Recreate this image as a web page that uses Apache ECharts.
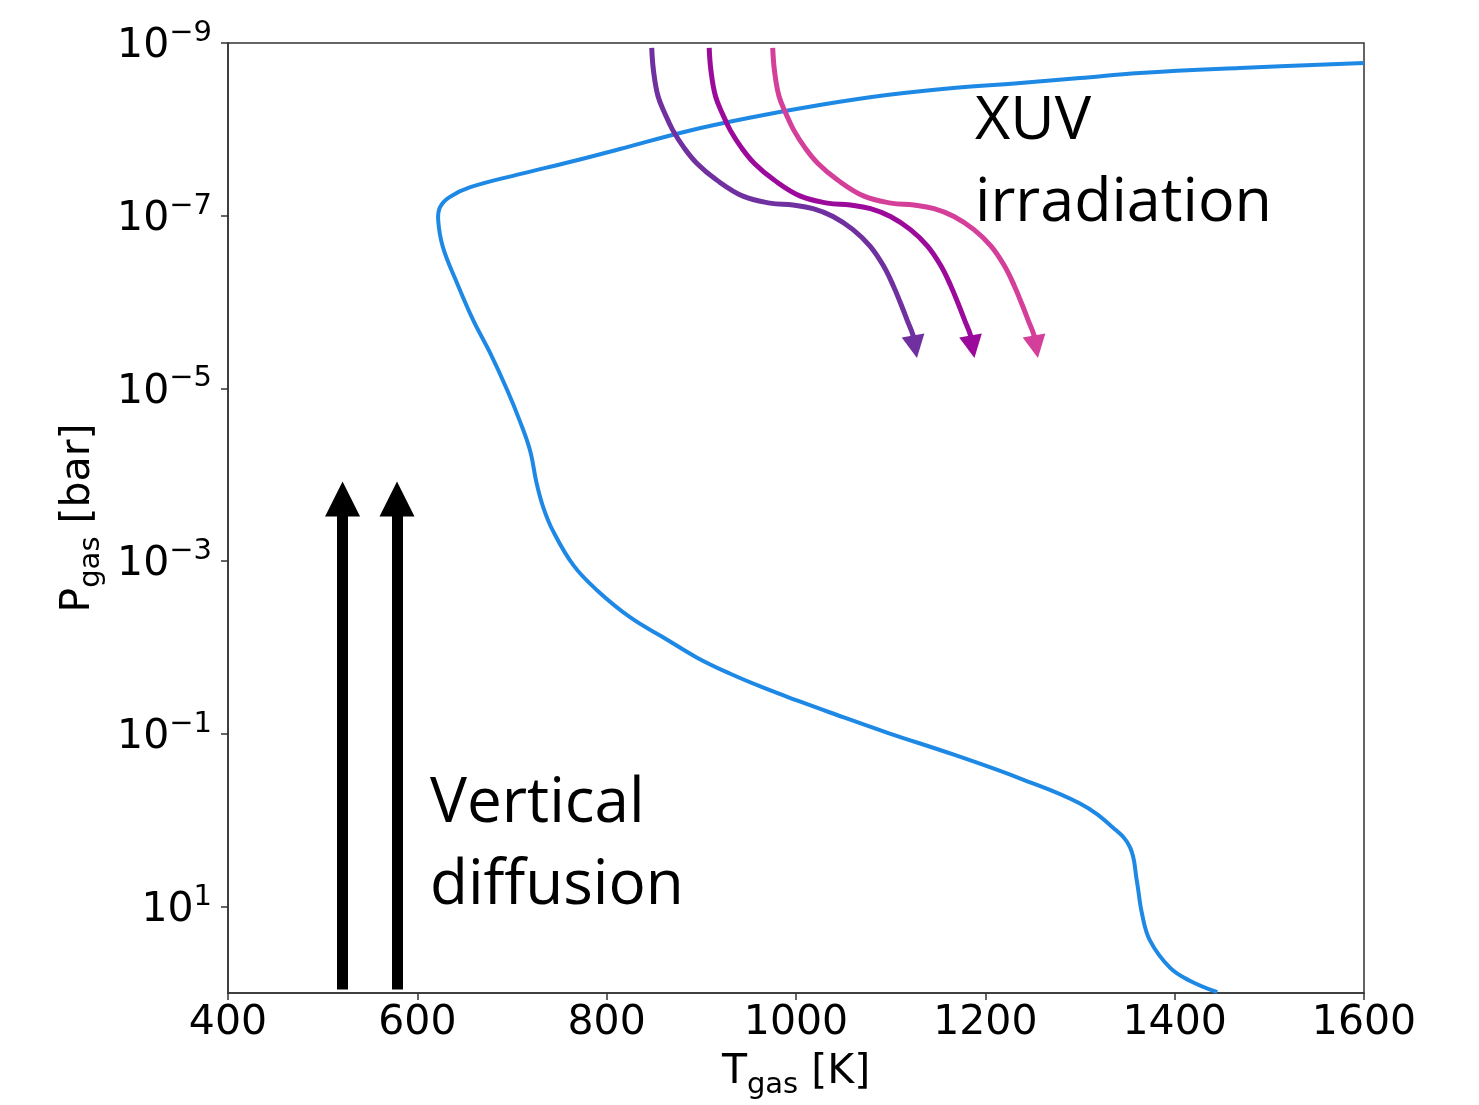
<!DOCTYPE html>
<html>
<head>
<meta charset="utf-8">
<script src="https://cdn.jsdelivr.net/npm/echarts@6/dist/echarts.min.js"></script>
<style>
  html, body { margin: 0; padding: 0; background: #fff; }
  #chart { width: 1479px; height: 1105px; }
</style>
</head>
<body>
<div id="chart"></div>
<script>
// T-P profile (T in K, P in bar), low pressure first
const profileT = [1600, 1469, 1363, 1300, 1237, 1166, 1096, 1025, 955, 885, 814, 761, 708, 656, 634, 624, 622, 627, 642, 659, 677, 695, 708, 719, 726, 733, 743, 765, 790, 825, 860, 895, 930, 965, 1001, 1036, 1096, 1166, 1237, 1300, 1335, 1353, 1360, 1365.5, 1374, 1395, 1416, 1445]
const profileP = [1.71e-9, 1.95e-9, 2.23e-9, 2.55e-9, 2.90e-9, 3.32e-9, 4.01e-9, 5.23e-9, 7.20e-9, 1.05e-8, 1.69e-8, 2.39e-8, 3.30e-8, 4.67e-8, 6.08e-8, 7.94e-8, 1.12e-7, 2.31e-7, 6.04e-7, 1.62e-6, 3.91e-6, 1.05e-5, 2.34e-5, 5.20e-5, 1.25e-4, 2.38e-4, 4.40e-4, 1.12e-3, 2.18e-3, 4.48e-3, 7.64e-3, 1.30e-2, 2.00e-2, 2.90e-2, 4.10e-2, 5.65e-2, 9.64e-2, 0.173, 0.329, 0.640, 1.22, 2.07, 5.00, 12.1, 24.8, 50.9, 72.0, 98]

// XUV arrows, same pressures along each path (last point = arrowhead centre)
const xuvP = [1.14e-9, 2.06e-9, 4.11e-9, 6.82e-9, 1.02e-8, 1.65e-8, 2.48e-8, 3.86e-8, 5.93e-8, 7.14e-8, 7.53e-8, 8.28e-8, 1.02e-7, 1.45e-7, 2.25e-7, 3.73e-7, 6.37e-7, 1.06e-6, 1.66e-6, 2.42e-6, 3.29e-6]
const xuvPurpleT = [847.6, 849.4, 854.2, 862.2, 869.8, 882.0, 895.4, 916.2, 944.0, 972.5, 996.8, 1018.0, 1039.1, 1060.2, 1078.2, 1091.9, 1102.5, 1110.9, 1117.8, 1123.6, 1125.7]
const xuvMagentaT = [908.3, 910.1, 914.9, 922.9, 930.5, 942.7, 956.1, 976.9, 1004.7, 1033.2, 1057.5, 1078.7, 1099.8, 1120.9, 1138.9, 1152.6, 1163.2, 1171.6, 1178.5, 1184.3, 1186.4]
const xuvPinkT = [975.4, 977.2, 982.0, 990.0, 997.6, 1009.8, 1023.2, 1044.0, 1071.8, 1100.3, 1124.6, 1145.8, 1166.9, 1188.0, 1206.0, 1219.7, 1230.3, 1238.7, 1245.6, 1251.4, 1253.5]

// vertical diffusion arrows
const diffusionT = [521, 578.5]
const diffusionP = [91, 1.9e-4]

const yTicks = [1e-9, 1e-7, 1e-5, 1e-3, 1e-1, 1e1]

const blue = '#1E88E5'
const arrowColors = ['#7030A0', '#9C0A9C', '#D43F99']
const axisFont = 'DejaVu Sans'
const noteFont = 'Open Sans'

const pairs = (xs, ys) => xs.map((x, i) => [x, ys[i]])

const supMap = { '-': '\u2212', '0': '0', '1': '1', '2': '2', '3': '3', '4': '4', '5': '5', '6': '6', '7': '7', '8': '8', '9': '9' }
const powLabel = (v) => {
  const e = Math.round(Math.log10(v))
  const s = String(e).split('').map((c) => supMap[c]).join('')
  return '{b|10}{s|' + s + '}'
}

// smooth curve through all points of a series (line series smoothing clamps and kinks here)
const curveSeries = (xs, ys, color, width, z) => {
  const data = pairs(xs, ys)
  return {
    type: 'custom',
    data,
    encode: { x: 0, y: 1 },
    z,
    renderItem: (params, api) => {
      if (params.dataIndex !== 0) return null
      const points = data.map((d) => api.coord(d))
      return {
        type: 'polyline',
        shape: { points, smooth: 0.4 },
        style: { stroke: color, lineWidth: width, fill: null, lineJoin: 'round', lineCap: 'butt' },
      }
    },
  }
}

const xuvT = [xuvPurpleT, xuvMagentaT, xuvPinkT]

const xuvCurves = xuvT.map((t, i) => curveSeries(t, xuvP, arrowColors[i], 5, 3))

const xuvHeads = xuvT.map((t, i) => {
  const n = t.length
  return {
    type: 'lines',
    coordinateSystem: 'cartesian2d',
    symbol: ['none', 'triangle'],
    symbolSize: 23,
    lineStyle: { color: arrowColors[i], width: 5, opacity: 1 },
    data: [{ coords: [[t[n - 2], xuvP[n - 2]], [t[n - 1], xuvP[n - 1]]] }],
    z: 4,
  }
})

const subRich = {
  n: { fontFamily: axisFont, fontSize: 41, color: '#000', lineHeight: 48, verticalAlign: 'top' },
  g: { fontFamily: axisFont, fontSize: 29, color: '#000', lineHeight: 29, verticalAlign: 'bottom', padding: [22, 0, 0, 0] },
}

const chart = echarts.init(document.getElementById('chart'))

chart.setOption({
  backgroundColor: '#fff',
  animation: false,
  grid: {
    left: 228, right: 115, top: 43, bottom: 112,
    show: true, borderColor: '#333', borderWidth: 1.5,
  },
  xAxis: {
    type: 'value',
    min: 400, max: 1600, interval: 200,
    name: '{n|T}{g|gas}{n| [K]}',
    nameLocation: 'middle',
    nameGap: 55,
    nameTextStyle: { rich: subRich },
    axisLine: { lineStyle: { color: '#333', width: 1.5 } },
    axisTick: { inside: false, length: 7, lineStyle: { color: '#333', width: 1.5 } },
    axisLabel: { fontFamily: axisFont, fontSize: 41, color: '#000', margin: 10, formatter: (v) => String(v) },
    splitLine: { show: false },
  },
  yAxis: {
    type: 'log',
    logBase: 10,
    min: 1e-9, max: 100,
    inverse: true,
    name: '{n|P}{g|gas}{n| [bar]}',
    nameLocation: 'middle',
    nameGap: 122,
    nameTextStyle: { rich: subRich },
    axisLine: { lineStyle: { color: '#333', width: 1.5 } },
    axisTick: { inside: false, length: 7, customValues: yTicks, lineStyle: { color: '#333', width: 1.5 } },
    axisLabel: {
      customValues: yTicks,
      margin: 16,
      formatter: powLabel,
      rich: {
        b: { fontFamily: axisFont, fontSize: 41, color: '#000', lineHeight: 48, verticalAlign: 'bottom' },
        s: { fontFamily: axisFont, fontSize: 29, color: '#000', lineHeight: 30, verticalAlign: 'top' },
      },
    },
    splitLine: { show: false },
    minorTick: { show: false },
  },
  graphic: [
    {
      type: 'text', left: 975, top: 81,
      style: { text: 'XUV\nirradiation', font: '61px "' + noteFont + '"', fill: '#000', lineHeight: 82 },
    },
    {
      type: 'text', left: 430, top: 763,
      style: { text: 'Vertical\ndiffusion', font: '62px "' + noteFont + '"', fill: '#000', lineHeight: 82 },
    },
  ],
  series: [
    curveSeries(profileT, profileP, blue, 4, 2),
    ...xuvCurves,
    ...xuvHeads,
    {
      type: 'lines',
      coordinateSystem: 'cartesian2d',
      symbol: ['none', 'triangle'],
      symbolSize: 35,
      lineStyle: { color: '#000', width: 11, opacity: 1 },
      data: diffusionT.map((t) => ({ coords: [[t, diffusionP[0]], [t, diffusionP[1]]] })),
      z: 4,
    },
  ],
})

window.addEventListener('resize', () => chart.resize())
</script>
</body>
</html>
